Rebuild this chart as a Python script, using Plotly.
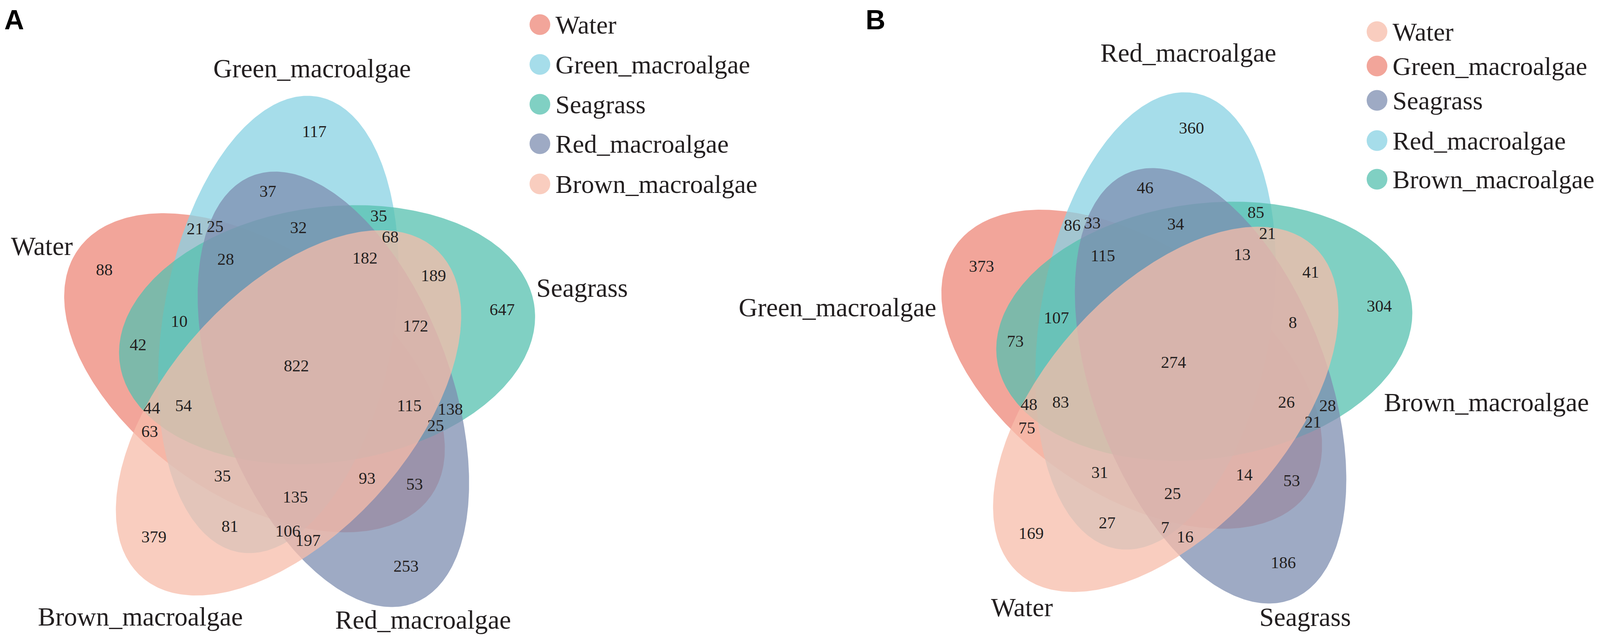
import numpy as np
import plotly.graph_objects as go

# Set codes used in the region keys below
set_codes = ["W", "G", "S", "R", "B"]
set_names = ["Water", "Green_macroalgae", "Seagrass", "Red_macroalgae", "Brown_macroalgae"]

# every intersection of the five sets (letters = sets that share the OTUs)
regions = ["W", "G", "S", "R", "B",
           "WG", "WS", "WR", "WB", "GS", "GR", "GB", "SR", "SB", "RB",
           "WGS", "WGR", "WGB", "WSR", "WSB", "WRB", "GSR", "GSB", "GRB", "SRB",
           "WGSR", "WGSB", "WGRB", "WSRB", "GSRB", "WGSRB"]
counts_a = [88, 117, 647, 253, 379,
            21, 42, 53, 63, 35, 37, 81, 138, 189, 197,
            10, 25, 35, 25, 44, 93, 32, 68, 106, 172,
            28, 54, 135, 115, 182, 822]
counts_b = [169, 373, 186, 360, 304,
            75, 16, 27, 41, 53, 86, 73, 46, 28, 85,
            14, 31, 48, 7, 8, 21, 33, 21, 107, 34,
            25, 26, 83, 13, 115, 274]

# ---- layout / style -------------------------------------------------------
# data coordinates are picture pixels (4549 x 1639); the page viewport is
# only 4096 css px wide, so the x axis is squeezed to fill it
W_PX, H_PX = 4549, 1639
VIEW_W = 4096
SX = VIEW_W / W_PX
PAD = 8  # default body margin of the html page (css px)
FIG_W = VIEW_W - 2 * PAD
FIG_H = H_PX - 2 * PAD

# ellipse template: slot 0 left, 1 top, 2 right, 3 lower right, 4 lower left
A_AX, B_AX, OFFSET = 594, 327, 120
slot_colors = ["rgba(238,135,120,0.75)", "rgba(136,210,227,0.75)",
               "rgba(85,192,175,0.75)", "rgba(125,141,176,0.75)",
               "rgba(247,188,170,0.75)"]

SERIF = "Liberation Serif"
TXT = "#231f20"
LABEL_SIZE = 67
LEGEND_SIZE = 66
NUM_SIZE = 43

panels = [
    dict(letter="A", letter_x=40, center=(842.6, 939.4), counts=counts_a,
         slots={"W": 0, "G": 1, "S": 2, "R": 3, "B": 4},
         legend_x=1535, legend_y=[63, 165, 267, 368, 471],
         labels={0: (-724, -309), 1: (45, -764), 2: (812, -202),
                 3: (360, 648), 4: (-443, 640)}),
    dict(letter="B", letter_x=2489, center=(3336.6, 930.4), counts=counts_b,
         slots={"G": 0, "R": 1, "B": 2, "S": 3, "W": 4},
         legend_x=3915, legend_y=[81, 169, 257, 360, 459],
         labels={0: (-956, -143), 1: (42, -795), 2: (890, 100),
                 3: (374, 650), 4: (-431, 625)}),
]


def ellipse(cx, cy, slot):
    ang = np.radians(-115.3 + 72 * (slot - 1))
    psi = np.radians(-78.4 + 72 * (slot - 1))
    return cx + OFFSET * np.cos(ang), cy + OFFSET * np.sin(ang), psi


def label_points(cx, cy, slots):
    # place each count at the point of its region farthest from any edge
    gx, gy = np.meshgrid(np.arange(cx - 720, cx + 760, 3.0),
                         np.arange(cy - 680, cy + 680, 3.0))
    mask = np.zeros(gx.shape, dtype=int)
    clear = np.full(gx.shape, np.inf)
    for s in range(5):
        ex, ey, psi = ellipse(cx, cy, s)
        dx, dy = gx - ex, gy - ey
        u = dx * np.cos(psi) + dy * np.sin(psi)
        v = -dx * np.sin(psi) + dy * np.cos(psi)
        f = u ** 2 / A_AX ** 2 + v ** 2 / B_AX ** 2 - 1
        grad = 2 * np.sqrt(u ** 2 / A_AX ** 4 + v ** 2 / B_AX ** 4) + 1e-9
        clear = np.minimum(clear, np.abs(f) / grad)
        mask |= (f < 0).astype(int) << s
    pts = []
    for code in regions:
        m = sum(1 << slots[c] for c in code)
        sel = mask == m
        i = np.argmax(np.where(sel, clear, -1))
        pts.append((gx.flat[i], gy.flat[i]))
    return pts


fig = go.Figure()
annotations = []
t = np.linspace(0, 2 * np.pi, 400)

for p in panels:
    cx, cy = p["center"]
    for s in range(5):
        ex, ey, psi = ellipse(cx, cy, s)
        xs = ex + A_AX * np.cos(t) * np.cos(psi) - B_AX * np.sin(t) * np.sin(psi)
        ys = ey + A_AX * np.cos(t) * np.sin(psi) + B_AX * np.sin(t) * np.cos(psi)
        fig.add_trace(go.Scatter(x=xs, y=ys, mode="lines", fill="toself",
                                 fillcolor=slot_colors[s], line=dict(width=0),
                                 hoverinfo="skip", showlegend=False))

    pts = label_points(cx, cy, p["slots"])
    fig.add_trace(go.Scatter(
        x=[q[0] for q in pts], y=[q[1] for q in pts], mode="text",
        text=[str(c) for c in p["counts"]],
        textfont=dict(family=SERIF, size=NUM_SIZE, color=TXT),
        hoverinfo="skip", showlegend=False))

    # set names around the diagram
    for code, name in zip(set_codes, set_names):
        s = p["slots"][code]
        ox, oy = p["labels"][s]
        annotations.append(dict(x=cx + ox, y=cy + oy, text=name, showarrow=False,
                                xanchor="center", yanchor="middle",
                                font=dict(family=SERIF, size=LABEL_SIZE, color=TXT)))

    # legend
    lx = p["legend_x"]
    fig.add_trace(go.Scatter(
        x=[lx] * 5, y=p["legend_y"], mode="markers",
        marker=dict(size=53,
                    color=[slot_colors[p["slots"][c]] for c in set_codes],
                    line=dict(width=0)),
        hoverinfo="skip", showlegend=False))
    for name, yy in zip(set_names, p["legend_y"]):
        annotations.append(dict(x=lx + 42, y=yy, text=name, showarrow=False,
                                xanchor="left", yanchor="middle",
                                font=dict(family=SERIF, size=LEGEND_SIZE, color=TXT)))

    annotations.append(dict(x=p["letter_x"], y=PAD + 2,
                            text="<b>%s</b>" % p["letter"], showarrow=False,
                            xanchor="center", yanchor="top",
                            font=dict(family="Liberation Sans", size=70,
                                      color="#000")))

fig.update_layout(
    width=FIG_W, height=FIG_H,
    margin=dict(l=0, r=0, t=0, b=0),
    paper_bgcolor="white", plot_bgcolor="white",
    xaxis=dict(range=[PAD / SX, (PAD + FIG_W) / SX], visible=False, fixedrange=True),
    yaxis=dict(range=[PAD + FIG_H, PAD], visible=False, fixedrange=True),
    annotations=annotations,
    showlegend=False,
)

fig.write_html("out.html")
